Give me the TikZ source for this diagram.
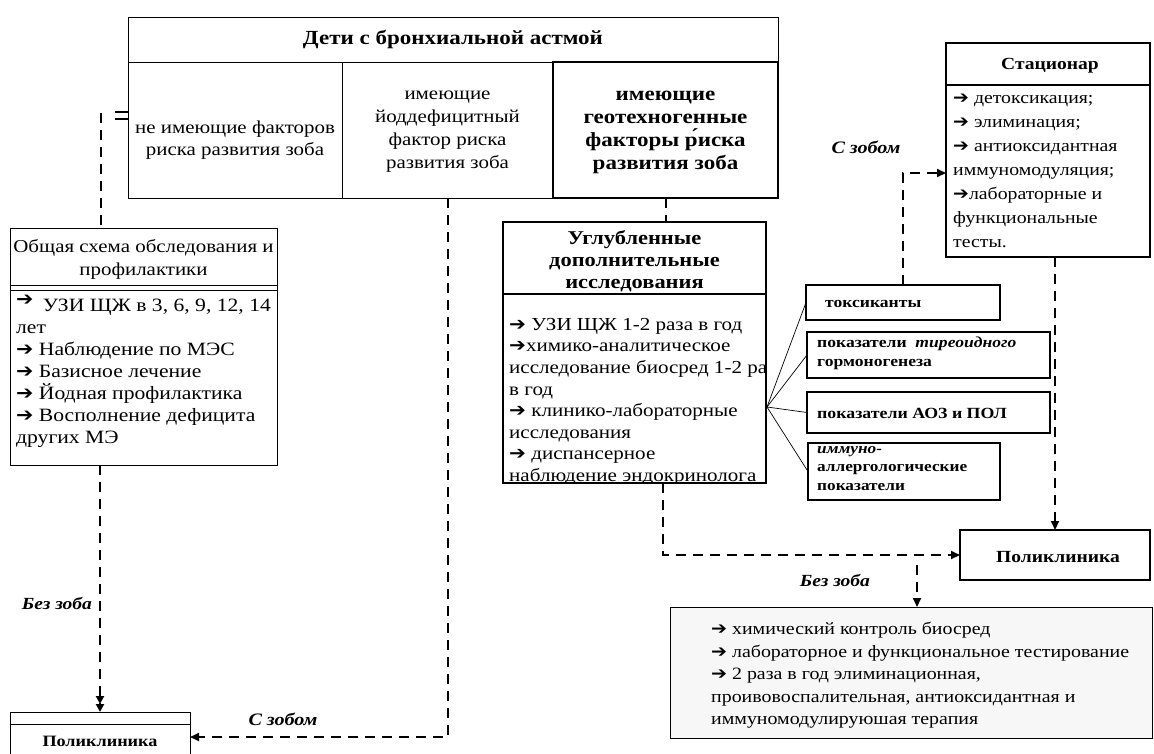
\documentclass[tikz,border=0pt]{standalone}
\usepackage{fontspec}
\setmainfont[FakeStretch=1.15]{Liberation Serif}
\newfontfamily\arfont[FakeStretch=1.1]{DejaVu Sans}
\usetikzlibrary{arrows.meta,calc}
\newcommand\ar{{\arfont ➔}}
\newcommand\fs[2]{\fontsize{#1}{#2}\selectfont}
\begin{document}
\begin{tikzpicture}[x=1pt,y=-1pt,
  font=\fs{18}{22},
  thinbox/.style={draw, line width=0.9pt, inner sep=0pt, outer sep=0pt},
  thickbox/.style={draw, line width=2.2pt, inner sep=0pt, outer sep=0pt},
  dl/.style={line width=2pt, dash pattern=on 10pt off 7pt},
  tip/.style={-{Triangle[length=9pt,width=8pt]}},
  lbl/.style={font=\fs{17}{20}\bfseries\itshape},
  txt/.style={align=left, anchor=north west, inner sep=0pt},
  ctr/.style={align=center, inner sep=0pt},
  sm/.style={font=\fs{15.3}{19}\bfseries}]
\useasboundingbox (0,0) rectangle (1154,753);

% top block
\node[thinbox, minimum width=650pt, minimum height=45pt] (title) at (453,39.5)
  {\fs{20}{22}\bfseries Дети с бронхиальной астмой};
\node[thinbox, minimum width=214pt, minimum height=136pt] (col1) at (235,130) {};
\node[ctr, font=\fs{18.2}{22}] (col1t) at (235,140)
  {не имеющие факторов\\риска развития зоба};
\node[thinbox, minimum width=211pt, minimum height=136pt] (col2) at (447.5,130) {};
\node[ctr, font=\fs{18.2}{23}] (col2t) at (447.5,132)
  {имеющие\\йоддефицитный\\фактор риска\\развития зоба};
\node[thickbox, minimum width=225pt, minimum height=136pt] (col3) at (665.5,130) {};
\node[ctr, font=\fs{20}{23}\bfseries] (col3t) at (665.5,132)
  {имеющие\\геотехногенные\\факторы р́иска\\развития зоба};

% general scheme
\node[thinbox, minimum width=267pt, minimum height=237pt] (gen) at (143.5,346.5) {};
\node[ctr, font=\fs{18.2}{23}] (genh) at (143.5,259) {Общая схема обследования и\\профилактики};
\draw[line width=0.9pt] (10,285) -- (277,285);
\draw[line width=0.9pt] (10,290) -- (277,290);
\node[txt, font=\fs{18.8}{22}] (genb) at (16,295)
  {\raisebox{6pt}{\ar}\enspace УЗИ ЩЖ в 3, 6, 9, 12, 14\\лет\\\ar{} Наблюдение по МЭС\\\ar{} Базисное лечение\\\ar{} Йодная профилактика\\\ar{} Восполнение дефицита\\других МЭ};

% bottom-left Poliklinika
\node[thinbox, minimum width=180pt, minimum height=50pt] (polL) at (100,737) {};
\draw[line width=0.9pt] (10,724) -- (190,724);
\node[font=\fs{15.8}{20}\bfseries, inner sep=0pt] (polLt) at (100,741) {Поликлиника};

% middle box
\node[thickbox, minimum width=263pt, minimum height=261pt] (mid) at (634.5,352.5) {};
\draw[line width=2pt] (503,294) -- (766,294);
\node[ctr, font=\fs{19.5}{22}\bfseries] (midh) at (634.5,261)
  {Углубленные\\дополнительные\\исследования};
\begin{scope}
\clip (504,296) rectangle (765,482);
\node[txt, font=\fs{18.3}{21.6}] (midb) at (509,318)
  {\ar{} УЗИ ЩЖ 1-2 раза в год\\\ar{}химико-аналитическое\\исследование биосред 1-2 раз\\в год\\\ar{} клинико-лабораторные\\исследования\\\ar{} диспансерное\\наблюдение эндокринолога};
\end{scope}

% small boxes
\node[thickbox, minimum width=194pt, minimum height=35pt] (tox) at (903,302.5) {};
\node[sm, anchor=west, inner sep=0pt] (toxt) at (825,304) {токсиканты};
\node[thickbox, minimum width=243pt, minimum height=46pt] (thy) at (928.5,355) {};
\node[sm, txt] (thyt) at (817,337) {показатели \ \textit{тиреоидного}\\гормоногенеза};
\node[thickbox, minimum width=243pt, minimum height=41pt] (aoz) at (928.5,412.5) {};
\node[anchor=west, inner sep=0pt, font=\fs{15.5}{19}\bfseries] (aozt) at (817,413) {показатели АОЗ и ПОЛ};
\node[thickbox, minimum width=192pt, minimum height=57pt] (imm) at (904,471.5) {};
\node[txt, font=\fs{15}{18.5}\bfseries] (immt) at (817,446) {\textit{иммуно-}\\аллергологические\\показатели};

% stacionar
\node[thickbox, minimum width=204pt, minimum height=214pt] (stac) at (1048,150) {};
\draw[line width=1.5pt] (946,85) -- (1150,85);
\node[font=\fs{17}{20}\bfseries, inner sep=0pt] (stact) at (1050,66) {Стационар};
\node[txt, font=\fs{17.2}{24}] (stacb) at (953,94)
  {\ar{} детоксикация;\\\ar{} элиминация;\\\ar{} антиоксидантная\\иммуномодуляция;\\\ar{}лабораторные и\\функциональные\\тесты.};

% right Poliklinika
\node[thickbox, minimum width=190pt, minimum height=50pt] (polR) at (1055,555) {};
\node[font=\fs{17}{20}\bfseries, inner sep=0pt] (polRt) at (1058,557) {Поликлиника};

% bottom box
\node[thinbox, fill=gray!6, minimum width=482pt, minimum height=131pt] (bot) at (911,672.5) {};
\node[txt, font=\fs{17.3}{22.5}] (botb) at (711,622)
  {\ar{} химический контроль биосред\\\ar{} лабораторное и функциональное тестирование\\\ar{} 2 раза в год элиминационная,\\проивовоспалительная, антиоксидантная и\\иммуномодулируюшая терапия};

% connectors
\coordinate (lt) at (101,113);
\draw[dl] (lt) -- (lt |- gen.north);
\draw[line width=1.4pt] (115,112) -- (128,112);
\draw[line width=1.4pt] (115,119) -- (128,119);

\draw[dl, -{Triangle[length=8pt,width=8pt]Triangle[length=8pt,width=8pt]}] (gen.south -| polL.north) -- (polL.north);
\node[lbl] (l1) at (57,603) {Без зоба};

\draw[dl, tip] (col2.south) |- ([yshift=-25pt]polL.north east);
\node[lbl, font=\fs{17.5}{20}\bfseries\itshape] (l2) at (283,719) {С зобом};

\draw[dl] (col3.south) -- (col3.south |- mid.north);

\draw[dl, tip] ([xshift=28pt]mid.south) |- (polR.west);

\coordinate (fan) at (767,407);
\draw[line width=0.7pt] (fan) -- (tox.west);
\draw[line width=0.7pt] (fan) -- (thy.west);
\draw[line width=0.7pt] (fan) -- (aoz.west);
\draw[line width=0.7pt] (fan) -- (imm.west);

\draw[dl, tip] (tox.north) |- ([yshift=-23pt]stac.west);
\node[lbl, font=\fs{17.5}{20}\bfseries\itshape] (l3) at (866,147) {С зобом};

\draw[dl, tip] (stac.south -| polR.north) -- (polR.north);

\coordinate (sp) at (917,555);
\draw[dl, tip] ([yshift=-10pt]sp) -- (sp |- bot.north);
\node[lbl] (l4) at (835,580) {Без зоба};
\end{tikzpicture}
\end{document}
